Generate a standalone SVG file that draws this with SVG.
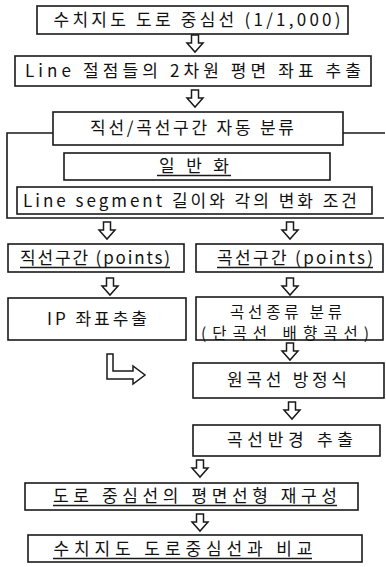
<svg xmlns="http://www.w3.org/2000/svg" width="386" height="567" viewBox="0 0 386 567">
<style>
.box{fill:#fff;stroke:#1a1a1a;stroke-width:1.6}
.t{font-family:"Noto Sans CJK KR","Liberation Sans",sans-serif;font-size:17px;fill:#111;text-anchor:middle}
.s{font-size:15.5px}
.ul{stroke:#1a1a1a;stroke-width:1.3}
.ar{fill:#fff;stroke:#1a1a1a;stroke-width:1.5;stroke-linejoin:miter}
.ln{fill:none;stroke:#1a1a1a;stroke-width:1.6}
</style>
<defs>
<path id="da" d="M-3.5,0 H3.5 V8 H8 L0,17 L-8,8 H-3.5 Z"/>
</defs>
<rect width="386" height="567" fill="#fff"/>
<g id="connectors">
<path class="ln" d="M53,133 H7 V218 H384 M343,133 H385"/>
<use href="#da" class="ar" x="195" y="35"/>
<use href="#da" class="ar" x="195" y="90"/>
<use href="#da" class="ar" x="107" y="222"/>
<use href="#da" class="ar" x="290" y="222"/>
<use href="#da" class="ar" x="110" y="278"/>
<use href="#da" class="ar" x="290" y="278"/>
<use href="#da" class="ar" x="290" y="343"/>
<use href="#da" class="ar" x="292" y="402"/>
<use href="#da" class="ar" x="200" y="460"/>
<use href="#da" class="ar" x="200" y="514"/>
<path class="ar" d="M107,354 H113 V371 H133 V366 L145,375 L133,384 V379 H107 Z"/>
</g>
<g id="n1"><rect class="box" x="37" y="6" width="311" height="28"/><text class="t" x="197" y="26" textLength="287" lengthAdjust="spacing">수치지도 도로 중심선 (1/1,000)</text></g>
<g id="n2"><rect class="box" x="15" y="56" width="356" height="30"/><text class="t" x="193" y="77" textLength="336" lengthAdjust="spacing">Line 절점들의 2차원 평면 좌표 추출</text></g>
<g id="n3"><rect class="box" x="53" y="112" width="290" height="33"/><text class="t" x="192" y="134" textLength="204" lengthAdjust="spacing">직선/곡선구간 자동 분류</text></g>
<g id="n4"><rect class="box" x="64" y="153" width="266" height="27"/><text class="t" x="194" y="172" textLength="70" lengthAdjust="spacing">일 반 화</text><line class="ul" x1="157" y1="175.5" x2="231" y2="175.5"/></g>
<g id="n5"><rect class="box" x="17" y="187" width="355" height="27"/><text class="t" x="190" y="207" textLength="334" lengthAdjust="spacing">Line segment 길이와 각의 변화 조건</text></g>
<g id="n6"><rect class="box" x="8" y="244" width="176" height="28"/><text class="t" x="95" y="264" textLength="150" lengthAdjust="spacing">직선구간 (points)</text><line class="ul" x1="20" y1="267.5" x2="170" y2="267.5"/></g>
<g id="n7"><rect class="box" x="196" y="244" width="187" height="28"/><text class="t" x="295" y="264" textLength="156" lengthAdjust="spacing">곡선구간 (points)</text><line class="ul" x1="217" y1="267.5" x2="373" y2="267.5"/></g>
<g id="n8"><rect class="box" x="8" y="298" width="178" height="42"/><text class="t" x="97" y="325" textLength="100" lengthAdjust="spacing">IP 좌표추출</text></g>
<g id="n9"><rect class="box" x="196" y="297" width="187" height="43"/><text class="t s" x="286" y="318" textLength="112" lengthAdjust="spacing">곡선종류 분류</text><text class="t s" x="285" y="339" textLength="168" lengthAdjust="spacing">(단곡선 배향곡선)</text></g>
<g id="n10"><rect class="box" x="193" y="363" width="191" height="35"/><text class="t" x="287" y="386" textLength="120" lengthAdjust="spacing">원곡선 방정식</text></g>
<g id="n11"><rect class="box" x="193" y="425" width="187" height="31"/><text class="t" x="290" y="446" textLength="126" lengthAdjust="spacing">곡선반경 추출</text></g>
<g id="n12"><rect class="box" x="25" y="483" width="333" height="27"/><text class="t" x="195" y="502" textLength="284" lengthAdjust="spacing">도로 중심선의 평면선형 재구성</text><line class="ul" x1="53" y1="505.5" x2="337" y2="505.5"/></g>
<g id="n13"><rect class="box" x="28" y="535" width="334" height="27"/><text class="t" x="183" y="555" textLength="259" lengthAdjust="spacing">수치지도 도로중심선과 비교</text><line class="ul" x1="53" y1="558.5" x2="312" y2="558.5"/></g>
</svg>
